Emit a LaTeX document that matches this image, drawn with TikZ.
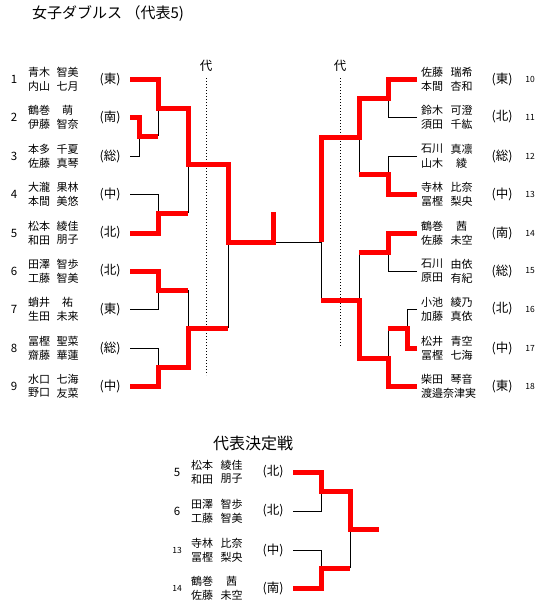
\documentclass[tikz,border=0pt]{standalone}
\usepackage{fontspec}
\setmainfont{Noto Sans CJK JP}
\usepackage{tikz}
\newcommand{\bignum}{\fontsize{11.5}{11.5}\selectfont}
\newcommand{\smallnum}{\fontsize{8.5}{8.5}\selectfont}
\tikzset{
  win/.style={draw=red, line width=5pt},
  lose/.style={draw=black, line width=0.9pt},
  pname/.style={font=\fontsize{11}{11}\selectfont, inner sep=0pt},
  preg/.style={font=\fontsize{12.5}{12.5}\selectfont, inner sep=0pt},
  pnum/.style={font=\bignum, inner sep=0pt},
  snum/.style={font=\smallnum, inner sep=0pt},
  subline/.style={black, line width=0.8pt, dash pattern=on 1pt off 2pt},
}

\begin{document}
\begin{tikzpicture}[x=1pt, y=-1pt]
    \useasboundingbox (0,0) rectangle (547,613);
    \node[anchor=west, inner sep=0pt, font=\fontsize{15}{15}\selectfont] (title) at (32,14) {女子ダブルス （代表5)};

    % left block
    \foreach \i/\y/\sa/\ga/\sb/\gb/\reg in {
        1/79/青木/智美/内山/七月/東, 2/117/鶴巻/萌/伊藤/智奈/南,
        3/156/本多/千夏/佐藤/真琴/総, 4/194/大瀧/果林/本間/美悠/中,
        5/233/松本/綾佳/和田/朋子/北, 6/271/田澤/智歩/工藤/智美/北,
        7/309/蛸井/祐/生田/未来/東, 8/348/冨樫/聖菜/齋藤/華蓮/総,
        9/386/水口/七海/野口/友菜/中} {
        \node[pnum] (num\i) at (14,\y) {\i};
        \node[pname, anchor=west] (sa\i) at (28,\y-7) {\sa};
        \node[pname] (ga\i) at (67.5,\y-7) {\ga};
        \node[pname, anchor=west] (sb\i) at (28,\y+7) {\sb};
        \node[pname] (gb\i) at (67.5,\y+7) {\gb};
        \node[preg] (reg\i) at (110,\y) {(\reg)};
        \coordinate (in\i) at (130,\y);
    }

    % right block
    \foreach \i/\y/\sa/\ga/\sb/\gb/\reg in {
        10/79/佐藤/瑞希/本間/杏和/東, 11/117/鈴木/可澄/須田/千紘/北,
        12/156/石川/真凛/山木/綾/総, 13/194/寺林/比奈/冨樫/梨央/中,
        14/233/鶴巻/茜/佐藤/未空/南, 15/271/石川/由依/原田/有紀/総,
        16/309/小池/綾乃/加藤/真依/北, 17/348/松井/青空/冨樫/七海/中,
        18/386/柴田/琴音/渡邉奈津実//東} {
        \node[snum] (num\i) at (530,\y) {\i};
        \node[pname, anchor=west] (sa\i) at (421,\y-7) {\sa};
        \node[pname] (ga\i) at (461.5,\y-7) {\ga};
        \node[pname, anchor=west] (sb\i) at (421,\y+7) {\sb};
        \node[pname] (gb\i) at (461.5,\y+7) {\gb};
        \node[preg] (reg\i) at (502,\y) {(\reg)};
        \coordinate (in\i) at (417,\y);
    }

    % substitute lines
    \node[preg] (dai1) at (206,66) {代};
    \node[preg] (dai2) at (340,66) {代};
    \draw[subline] (206,78) -- (206,375);
    \draw[subline] (340,78) -- (340,347);

    % left bracket, losers
    \draw[lose] (in3) -| (139,136);
    \draw[lose] (158,108) -- (158,136);
    \draw[lose] (in4) -| (158,213);
    \draw[lose] (188,164) -- (188,213);
    \draw[lose] (in7) -| (158,290);
    \draw[lose] (in8) -| (158,367);
    \draw[lose] (188,290) -- (188,328);
    \draw[lose] (228,328) -- (228,242);
    \draw[lose] (273,242) -- (321,242);
    % right bracket, losers
    \draw[lose] (in11) -| (388,98);
    \draw[lose] (in12) -| (388,174);
    \draw[lose] (359,137) -- (359,174);
    \draw[lose] (in15) -| (388,252);
    \draw[lose] (in16) -| (407,328);
    \draw[lose] (388,328) -- (388,358);
    \draw[lose] (359,252) -- (359,300);
    \draw[lose] (321,242) -- (321,300);

    % left bracket, winners
    \draw[win] (in1) -| (158,108) -| (188,164) -| (228,242) -| (273,212);
    \draw[win] (in2) -| (139,136) -- (158,136);
    \draw[win] (in5) -| (158,213) -- (188,213);
    \draw[win] (in6) -| (158,290) -- (188,290);
    \draw[win] (in9) -| (158,367) -| (188,328) -- (228,328);
    % right bracket, winners
    \draw[win] (in10) -| (388,98) -| (359,137) -| (321,242);
    \draw[win] (in13) -| (388,174) -- (359,174);
    \draw[win] (in14) -| (388,252) -- (359,252);
    \draw[win] (in17) -| (407,328) -- (388,328);
    \draw[win] (in18) -| (388,358) -| (359,300) -- (321,300);

    % play-off
    \node[inner sep=0pt, font=\fontsize{16}{16}\selectfont] (playoff) at (253,443) {代表決定戦};
    \foreach \i/\y/\sa/\ga/\sb/\gb/\reg in {
        5/472/松本/綾佳/和田/朋子/北, 6/511/田澤/智歩/工藤/智美/北,
        13/550/寺林/比奈/冨樫/梨央/中, 14/588/鶴巻/茜/佐藤/未空/南} {
        \node[inner sep=0pt, font=\ifnum\i>9 \smallnum\else\bignum\fi] (pnum\i) at (177,\y) {\i};
        \node[pname, anchor=west] (psa\i) at (191,\y-7) {\sa};
        \node[pname] (pga\i) at (231.5,\y-7) {\ga};
        \node[pname, anchor=west] (psb\i) at (191,\y+7) {\sb};
        \node[pname] (pgb\i) at (231.5,\y+7) {\gb};
        \node[preg] (preg\i) at (273,\y) {(\reg)};
        \coordinate (pin\i) at (293,\y);
    }
    \draw[lose] (pin6) -| (321,491);
    \draw[lose] (pin13) -| (321,568);
    \draw[lose] (350,529) -- (350,568);
    \draw[win] (pin5) -| (321,491) -| (350,529) -- (379,529);
    \draw[win] (pin14) -| (321,568) -- (350,568);
\end{tikzpicture}
\end{document}
